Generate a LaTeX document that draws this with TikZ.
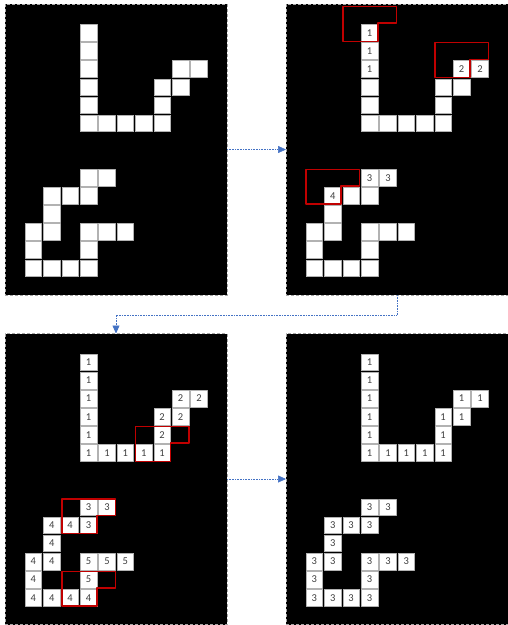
\documentclass[tikz,border=0pt]{standalone}
\usepackage{fontspec}
\setmainfont{Carlito}
\usetikzlibrary{arrows.meta}
\definecolor{maskred}{RGB}{192,0,0}
\definecolor{flowblue}{RGB}{68,114,196}
\begin{document}
\begin{tikzpicture}[x=1pt,y=-1pt,line join=round,
	panel/.style={draw=gray!70,densely dashed,line width=.4pt,fill=black,minimum width=222pt,minimum height=291pt,inner sep=0,outer sep=0},
	cell/.style={draw=gray!60,line width=.5pt,fill=white,minimum size=16.7pt,inner sep=0,text=black!75,font=\fontsize{10.5}{12}\selectfont},
	window/.style={draw=maskred,line width=1.4pt},
	flow/.style={draw=flowblue,densely dotted,line width=.6pt,-{Triangle[length=8pt,width=7pt]}}]
	\useasboundingbox (0,0) rectangle (507,625);
	\node[panel] (P1) at (116,149.5) {};
	\node[panel] (P2) at (397,149.5) {};
	\node[panel] (P3) at (116,479) {};
	\node[panel] (P4) at (397,479) {};
	\foreach \c/\r/\u/\v/\w in {3/0/1/1/1,3/1/1/1/1,3/2/1/1/1,3/3/{}/1/1,3/4/{}/1/1,3/5/{}/1/1,
		4/5/{}/1/1,5/5/{}/1/1,6/5/{}/1/1,7/5/{}/1/1,7/4/{}/2/1,7/3/{}/2/1,8/3/{}/2/1,8/2/2/2/1,9/2/2/2/1,
		3/8/3/3/3,4/8/3/3/3,1/9/4/4/3,2/9/{}/4/3,3/9/{}/3/3,1/10/{}/4/3,0/11/{}/4/3,1/11/{}/4/3,
		3/11/{}/5/3,4/11/{}/5/3,5/11/{}/5/3,0/12/{}/4/3,3/12/{}/5/3,
		0/13/{}/4/3,1/13/{}/4/3,2/13/{}/4/3,3/13/{}/4/3}
		\foreach \p/\t in {P1/{},P2/\u,P3/\v,P4/\w}
			\node[cell] (\p-\c-\r) at ([shift={({28.35+18.4*\c},{28.85+18.1*\r})}]\p.north west) {\t};
	\foreach \n in {P2-3-0,P2-8-2,P2-1-9,P3-7-5,P3-3-9,P3-3-13}
		\draw[window] (\n.center) +(-26.75,-26.45) -- +(26.75,-26.45) -- +(26.75,-9.75) -- +(8.35,-9.75)
			-- +(8.35,8.35) -- +(-26.75,8.35) -- cycle;
	\draw[flow] (P1) -- (P2);
	\draw[flow] (P2.south) -- ++(0,20) -| (P3.north);
	\draw[flow] (P3) -- (P4);
\end{tikzpicture}
\end{document}
